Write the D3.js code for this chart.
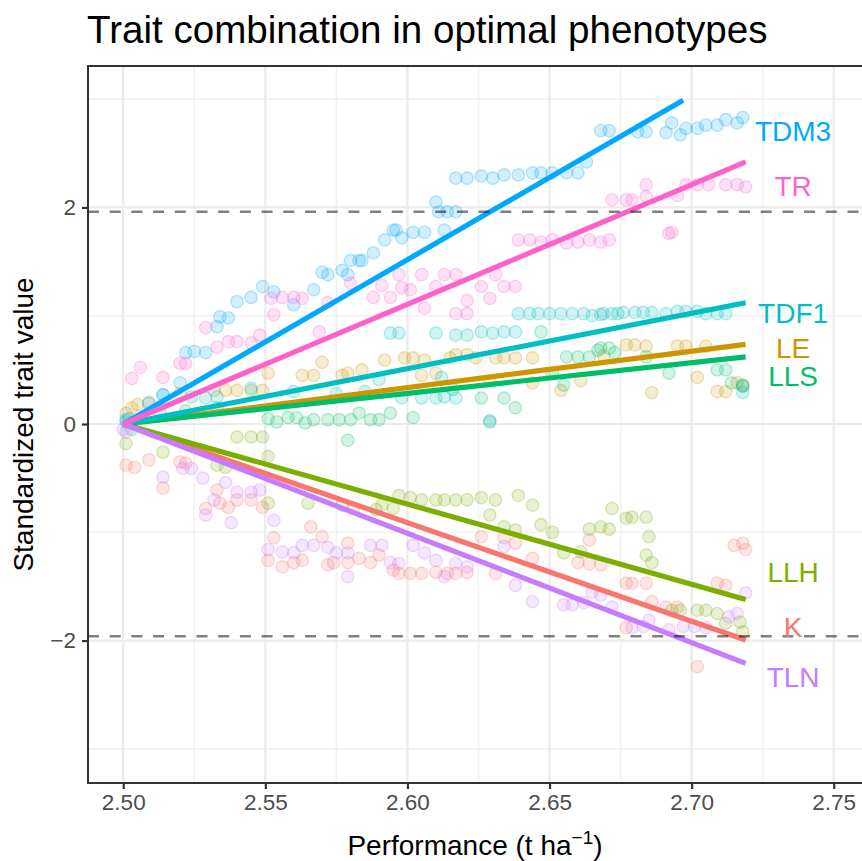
<!DOCTYPE html>
<html>
<head>
<meta charset="utf-8">
<script src="https://cdn.jsdelivr.net/npm/d3@7"></script>
<style>
  body { margin: 0; background: #fff; }
  svg { display: block; font-family: "Liberation Sans", Arial, sans-serif; }
</style>
</head>
<body>
<svg id="chart" width="862" height="861"></svg>
<script>
var traits = ["K", "LE", "LLH", "LLS", "TDF1", "TDM3", "TLN", "TR"];
var traitColors = ["#F8766D", "#CD9600", "#7CAE00", "#00BE67", "#00BFC4", "#00A9FF", "#C77CFF", "#FF61CC"];

// fitted trend: from (2.50, 0) to the end point
var lineStartX = 2.50;
var lineEndX = [2.719, 2.719, 2.719, 2.719, 2.719, 2.697, 2.719, 2.719];
var lineEndY = [-1.995, 0.736, -1.62, 0.62, 1.12, 2.99, -2.21, 2.42];

// label positions (text centre)
var labelX = 2.7357;
var labelY = [-1.87, 0.70, -1.37, 0.44, 1.025, 2.71, 2.20, -2.34];
labelY = [-1.87, 0.70, -1.37, 0.44, 1.025, 2.71, -2.34, 2.20];

var xTicks = [2.50, 2.55, 2.60, 2.65, 2.70, 2.75];
var xMinor = [2.525, 2.575, 2.625, 2.675, 2.725];
var yTicks = [-2, 0, 2];
var yMinor = [-3, -1, 1, 3];
var critical = [1.96, -1.96];

var ptsK = [[2.501,-0.38],[2.504,-0.40],[2.509,-0.33],[2.514,-0.59],[2.520,-0.35],[2.522,-0.36],[2.529,-0.78],[2.533,-0.61],[2.534,-0.73],[2.537,-0.77],[2.540,-0.70],[2.545,-0.70],[2.549,-0.77],[2.553,-1.05],[2.551,-1.26],[2.556,-1.32],[2.560,-1.28],[2.563,-1.26],[2.566,-0.95],[2.570,-1.04],[2.572,-1.30],[2.574,-1.28],[2.579,-1.28],[2.579,-1.10],[2.583,-1.24],[2.587,-1.28],[2.590,-1.21],[2.595,-1.35],[2.597,-1.38],[2.601,-1.38],[2.605,-1.38],[2.610,-1.37],[2.614,-1.38],[2.617,-1.38],[2.621,-1.37],[2.626,-1.04],[2.631,-1.38],[2.634,-1.05],[2.638,-1.10],[2.644,-1.24],[2.660,-1.28],[2.664,-1.07],[2.664,-1.29],[2.668,-1.30],[2.677,-1.47],[2.679,-1.47],[2.684,-1.47],[2.686,-1.64],[2.691,-1.69],[2.695,-1.69],[2.677,-1.88],[2.702,-2.24],[2.709,-1.47],[2.712,-1.49],[2.715,-1.12],[2.718,-1.10],[2.719,-1.16]];
var ptsLE = [[2.501,0.10],[2.503,0.15],[2.505,0.18],[2.509,0.20],[2.520,0.28],[2.532,0.31],[2.536,0.31],[2.540,0.31],[2.545,0.31],[2.549,0.31],[2.551,0.47],[2.563,0.45],[2.567,0.45],[2.570,0.57],[2.577,0.45],[2.579,0.47],[2.584,0.50],[2.592,0.59],[2.599,0.61],[2.602,0.61],[2.605,0.45],[2.606,0.59],[2.610,0.47],[2.615,0.61],[2.617,0.64],[2.621,0.64],[2.624,0.61],[2.629,0.40],[2.631,0.61],[2.634,0.61],[2.638,0.61],[2.644,0.61],[2.644,0.38],[2.654,0.31],[2.661,0.40],[2.669,0.63],[2.677,0.73],[2.680,0.73],[2.684,0.72],[2.686,0.29],[2.695,0.72],[2.698,0.72],[2.702,0.43],[2.705,0.72],[2.709,0.30],[2.712,0.30],[2.716,0.38],[2.718,0.35]];
var ptsLLH = [[2.501,-0.18],[2.514,-0.26],[2.533,-0.38],[2.536,-0.40],[2.540,-0.12],[2.545,-0.12],[2.549,-0.12],[2.551,-0.30],[2.551,-0.73],[2.565,-0.73],[2.577,-0.75],[2.581,-0.78],[2.589,-0.79],[2.591,-0.75],[2.595,-0.78],[2.597,-0.66],[2.601,-0.68],[2.605,-0.70],[2.610,-0.70],[2.613,-0.70],[2.617,-0.70],[2.621,-0.70],[2.626,-0.68],[2.629,-0.84],[2.631,-0.70],[2.639,-0.66],[2.644,-0.75],[2.634,-0.95],[2.638,-0.98],[2.647,-0.93],[2.651,-1.00],[2.655,-1.19],[2.661,-1.18],[2.664,-0.97],[2.668,-0.95],[2.671,-0.97],[2.672,-0.78],[2.677,-0.87],[2.679,-0.86],[2.684,-0.86],[2.685,-1.04],[2.684,-1.21],[2.686,-1.28],[2.693,-1.72],[2.696,-1.72],[2.702,-1.72],[2.705,-1.72],[2.709,-1.75],[2.712,-1.84],[2.717,-1.83],[2.718,-1.92]];
var ptsLLS = [[2.501,0.02],[2.503,-0.05],[2.513,0.10],[2.522,0.12],[2.533,0.15],[2.551,0.05],[2.554,0.02],[2.558,0.06],[2.561,0.06],[2.564,0.01],[2.567,0.04],[2.572,0.04],[2.576,0.04],[2.579,-0.15],[2.580,0.04],[2.583,0.10],[2.587,0.04],[2.590,0.04],[2.594,0.10],[2.602,0.06],[2.616,0.32],[2.626,0.24],[2.629,0.02],[2.634,0.24],[2.638,0.15],[2.651,0.47],[2.655,0.36],[2.647,0.85],[2.656,0.62],[2.660,0.62],[2.664,0.62],[2.667,0.68],[2.668,0.70],[2.671,0.70],[2.673,0.66],[2.684,0.62],[2.692,0.47],[2.709,0.50],[2.712,0.50],[2.714,0.38],[2.718,0.36]];
var ptsTDF1 = [[2.502,0.05],[2.514,0.27],[2.524,0.25],[2.529,0.24],[2.533,0.25],[2.545,0.33],[2.560,0.30],[2.575,0.28],[2.585,0.30],[2.590,0.41],[2.594,0.84],[2.597,0.84],[2.598,0.24],[2.605,0.24],[2.610,0.24],[2.610,0.84],[2.612,0.43],[2.613,0.25],[2.617,0.24],[2.617,0.82],[2.621,0.82],[2.626,0.85],[2.629,0.03],[2.630,0.84],[2.634,0.85],[2.638,0.85],[2.639,1.02],[2.643,1.02],[2.646,1.02],[2.650,1.02],[2.654,1.02],[2.658,1.02],[2.662,1.02],[2.665,1.00],[2.668,1.01],[2.669,1.02],[2.672,1.02],[2.674,1.02],[2.676,1.03],[2.680,1.03],[2.683,1.03],[2.686,1.03],[2.691,1.02],[2.695,1.04],[2.698,1.04],[2.702,1.04],[2.705,1.02],[2.709,1.02],[2.712,1.02],[2.718,0.29],[2.718,0.35]];
var ptsTDM3 = [[2.501,0.04],[2.509,0.19],[2.514,0.27],[2.520,0.38],[2.522,0.66],[2.525,0.67],[2.529,0.66],[2.533,0.90],[2.534,0.99],[2.537,0.98],[2.540,1.13],[2.545,1.17],[2.549,1.27],[2.553,1.22],[2.560,1.10],[2.567,1.24],[2.570,1.40],[2.572,1.38],[2.577,1.42],[2.579,1.38],[2.580,1.51],[2.583,1.51],[2.584,1.51],[2.588,1.58],[2.592,1.70],[2.595,1.79],[2.596,1.79],[2.598,1.72],[2.602,1.77],[2.606,1.77],[2.610,2.05],[2.611,1.96],[2.613,1.79],[2.614,1.96],[2.617,1.96],[2.617,2.27],[2.621,2.27],[2.626,2.29],[2.630,2.27],[2.634,2.30],[2.639,2.30],[2.644,2.32],[2.647,2.32],[2.651,2.32],[2.656,2.32],[2.660,2.32],[2.663,2.42],[2.668,2.71],[2.671,2.71],[2.681,2.70],[2.684,2.70],[2.691,2.69],[2.693,2.78],[2.696,2.67],[2.698,2.73],[2.702,2.73],[2.705,2.76],[2.709,2.76],[2.712,2.81],[2.716,2.78],[2.718,2.83]];
var ptsTLN = [[2.500,-0.05],[2.501,-0.07],[2.514,-0.49],[2.521,-0.41],[2.524,-0.41],[2.528,-0.50],[2.529,-0.84],[2.532,-0.70],[2.536,-0.54],[2.538,-0.91],[2.540,-0.63],[2.545,-0.63],[2.548,-0.61],[2.553,-0.89],[2.551,-1.16],[2.556,-1.18],[2.560,-1.19],[2.563,-1.12],[2.567,-1.12],[2.572,-1.14],[2.575,-1.19],[2.579,-1.19],[2.579,-1.41],[2.587,-1.12],[2.591,-1.12],[2.594,-1.28],[2.597,-1.29],[2.602,-1.12],[2.606,-1.19],[2.610,-1.26],[2.613,-1.41],[2.617,-1.29],[2.621,-1.32],[2.634,-1.13],[2.638,-1.49],[2.644,-1.64],[2.655,-1.67],[2.658,-1.67],[2.662,-1.65],[2.665,-1.55],[2.668,-1.58],[2.672,-1.69],[2.679,-1.88],[2.683,-1.87],[2.685,-1.81],[2.692,-1.90],[2.697,-1.87],[2.701,-1.87],[2.705,-1.88],[2.713,-1.78],[2.716,-1.75],[2.719,-1.56]];
var ptsTR = [[2.503,0.42],[2.506,0.52],[2.514,0.43],[2.520,0.56],[2.522,0.56],[2.529,0.89],[2.533,0.71],[2.537,0.76],[2.540,0.76],[2.545,0.75],[2.548,0.82],[2.552,1.16],[2.553,1.01],[2.556,1.17],[2.560,1.17],[2.563,1.16],[2.569,0.85],[2.572,1.12],[2.580,1.30],[2.588,1.17],[2.591,1.28],[2.594,1.17],[2.597,1.38],[2.598,1.26],[2.601,1.24],[2.605,1.38],[2.606,1.07],[2.610,1.27],[2.613,1.38],[2.617,1.38],[2.617,1.02],[2.621,1.02],[2.621,1.14],[2.626,1.27],[2.629,1.16],[2.631,1.38],[2.634,1.27],[2.638,1.27],[2.639,1.70],[2.643,1.70],[2.647,1.68],[2.651,1.70],[2.656,1.67],[2.660,1.68],[2.664,1.70],[2.668,1.68],[2.671,1.70],[2.672,2.07],[2.677,2.07],[2.679,2.07],[2.684,2.21],[2.684,2.10],[2.692,1.76],[2.693,1.77],[2.695,2.11],[2.698,2.21],[2.702,2.21],[2.706,2.21],[2.712,2.21],[2.716,2.21],[2.719,2.19]];
var traitPoints = [ptsK, ptsLE, ptsLLH, ptsLLS, ptsTDF1, ptsTDM3, ptsTLN, ptsTR];

var svg = d3.select("#chart");
var panel = {left: 88, top: 66, right: 863, bottom: 783};

var x = d3.scaleLinear().domain([2.4876, 2.7603]).range([panel.left, panel.right]);
var y = d3.scaleLinear().domain([-3.315, 3.306]).range([panel.bottom, panel.top]);

var g = svg.append("g");

// grid
g.selectAll(".xminor").data(xMinor).enter().append("line")
  .attr("x1", function(d) { return x(d); }).attr("x2", function(d) { return x(d); })
  .attr("y1", panel.top).attr("y2", panel.bottom)
  .attr("stroke", "#F2F2F2").attr("stroke-width", 1.6);
g.selectAll(".yminor").data(yMinor).enter().append("line")
  .attr("y1", function(d) { return y(d); }).attr("y2", function(d) { return y(d); })
  .attr("x1", panel.left).attr("x2", panel.right)
  .attr("stroke", "#F2F2F2").attr("stroke-width", 1.6);
g.selectAll(".xmajor").data(xTicks).enter().append("line")
  .attr("x1", function(d) { return x(d); }).attr("x2", function(d) { return x(d); })
  .attr("y1", panel.top).attr("y2", panel.bottom)
  .attr("stroke", "#EBEBEB").attr("stroke-width", 2.2);
g.selectAll(".ymajor").data(yTicks).enter().append("line")
  .attr("y1", function(d) { return y(d); }).attr("y2", function(d) { return y(d); })
  .attr("x1", panel.left).attr("x2", panel.right)
  .attr("stroke", "#EBEBEB").attr("stroke-width", 2.2);

// points
traits.forEach(function(t, i) {
  g.append("g").selectAll("circle").data(traitPoints[i]).enter().append("circle")
    .attr("cx", function(d) { return x(d[0]); })
    .attr("cy", function(d) { return y(d[1]); })
    .attr("r", 6.2)
    .attr("fill", traitColors[i]).attr("fill-opacity", 0.18)
    .attr("stroke", traitColors[i]).attr("stroke-opacity", 0.28).attr("stroke-width", 1.3);
});

// trend lines
var line = d3.line()
  .x(function(d) { return x(d[0]); })
  .y(function(d) { return y(d[1]); });

traits.forEach(function(t, i) {
  g.append("path")
    .datum([[lineStartX, 0], [lineEndX[i], lineEndY[i]]])
    .attr("d", line)
    .attr("fill", "none")
    .attr("stroke", traitColors[i])
    .attr("stroke-width", 5.2);
});

// +-1.96 reference
g.selectAll(".crit").data(critical).enter().append("line")
  .attr("x1", panel.left).attr("x2", panel.right)
  .attr("y1", function(d) { return y(d); }).attr("y2", function(d) { return y(d); })
  .attr("stroke", "#000").attr("stroke-opacity", 0.5)
  .attr("stroke-width", 2.6).attr("stroke-dasharray", "11,10.7");

// trait labels
g.selectAll(".lab").data(traits).enter().append("text")
  .attr("x", x(labelX))
  .attr("y", function(d, i) { return y(labelY[i]); })
  .attr("dy", "0.36em")
  .attr("text-anchor", "middle")
  .attr("font-size", 28)
  .attr("fill", function(d, i) { return traitColors[i]; })
  .text(function(d) { return d; });

// panel border
svg.append("rect")
  .attr("x", panel.left).attr("y", panel.top)
  .attr("width", panel.right - panel.left).attr("height", panel.bottom - panel.top)
  .attr("fill", "none").attr("stroke", "#333").attr("stroke-width", 2);

// axes
var xAxis = svg.append("g")
  .attr("transform", "translate(0," + panel.bottom + ")")
  .call(d3.axisBottom(x).tickValues(xTicks).tickFormat(d3.format(".2f")).tickSize(6).tickPadding(5));
var yAxis = svg.append("g")
  .attr("transform", "translate(" + panel.left + ",0)")
  .call(d3.axisLeft(y).tickValues(yTicks).tickFormat(function(d) { return d < 0 ? "\u2212" + Math.abs(d) : d; }).tickSize(6).tickPadding(6));

[xAxis, yAxis].forEach(function(a) {
  a.select(".domain").remove();
  a.selectAll(".tick line").attr("stroke", "#333").attr("stroke-width", 2.2);
  a.selectAll(".tick text").attr("fill", "#4D4D4D").attr("font-size", 22.5)
    .attr("font-family", "Liberation Sans, Arial, sans-serif");
});

// titles
svg.append("text")
  .attr("x", 87).attr("y", 43)
  .attr("font-size", 38.6).attr("fill", "#000")
  .text("Trait combination in optimal phenotypes");

var xt = svg.append("text")
  .attr("x", (panel.left + 862) / 2).attr("y", 855)
  .attr("text-anchor", "middle").attr("font-size", 28).attr("fill", "#000");
xt.append("tspan").text("Performance (t ha");
xt.append("tspan").attr("font-size", 19).attr("dy", -11).text("\u22121");
xt.append("tspan").attr("dy", 11).text(")");

svg.append("text")
  .attr("transform", "translate(33," + ((panel.top + panel.bottom) / 2) + ") rotate(-90)")
  .attr("text-anchor", "middle").attr("font-size", 28).attr("fill", "#000")
  .text("Standardized trait value");
</script>
</body>
</html>
